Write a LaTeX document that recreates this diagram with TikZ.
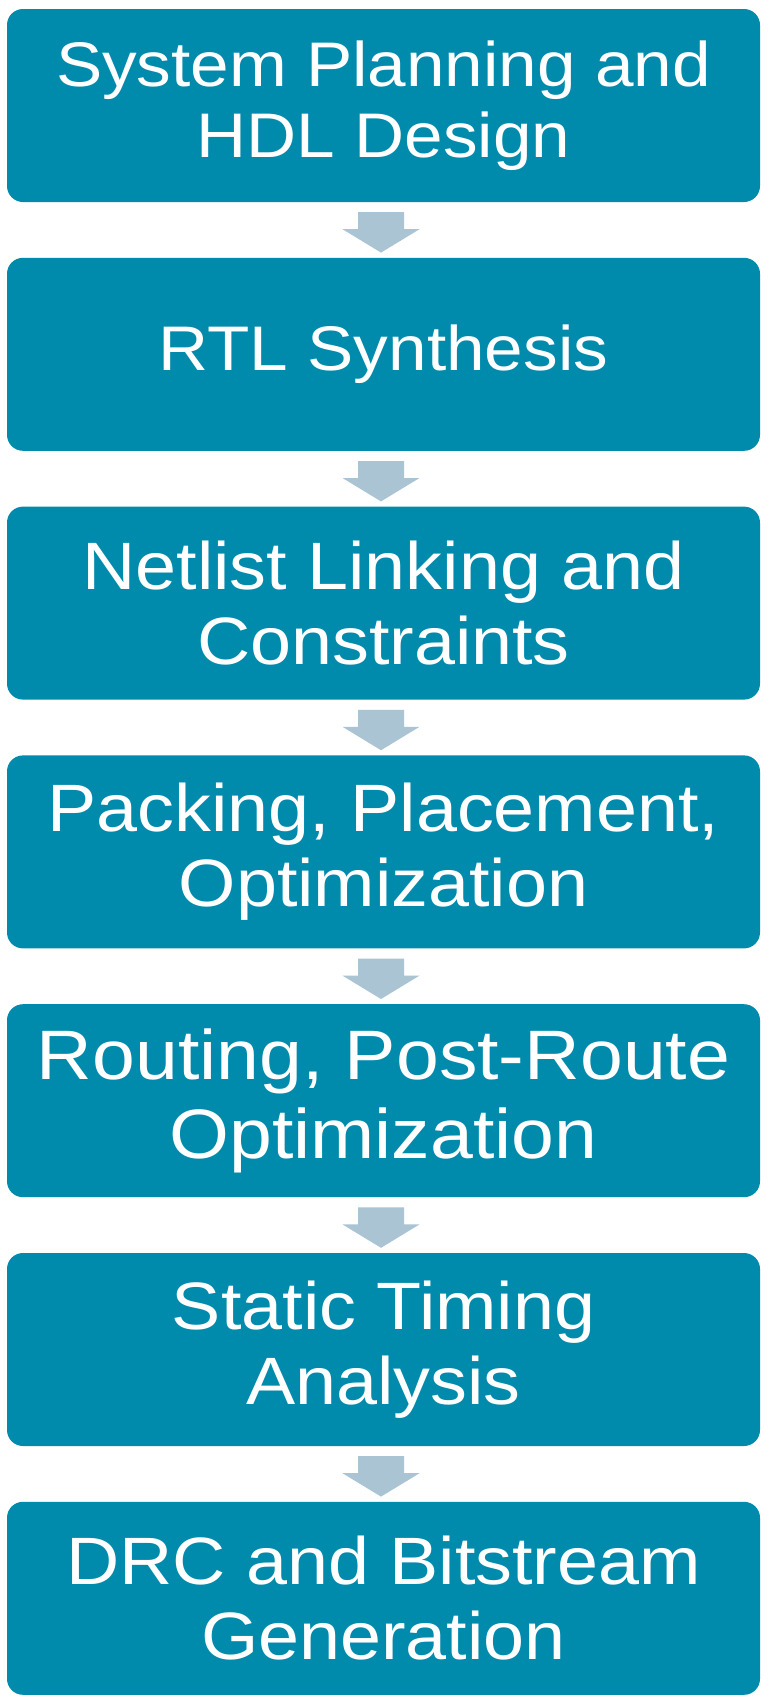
\documentclass[tikz,border=0pt]{standalone}
\usepackage{fontspec}
\setmainfont{Liberation Sans}
\newfontfamily\boxfont[FakeStretch=1.1]{Liberation Sans}
\usetikzlibrary{calc}
\definecolor{boxteal}{HTML}{008BAD}
\definecolor{arrowblue}{HTML}{ABC4D4}
\newcommand{\fsz}[1]{\fontsize{#1}{\dimexpr #1pt*112/100\relax}\selectfont}
\tikzset{
  stepbox/.style={rectangle, rounded corners=16pt, fill=boxteal, draw=none,
    minimum width=753pt, minimum height=193pt, inner sep=0pt,
    text=white, align=center, font=\boxfont\fsz{67}},
  textsize/.style={font=\boxfont\fsz{#1}},
  flowarrow/.style={fill=arrowblue, draw=none}
}
\newcommand{\blockarrow}[2]{%
  \fill[flowarrow] ($(#1.south)+(-25.5,10)$) -- ($(#1.south)+(20.5,10)$)
    -- ($(#1.south)+(20.5,27)$) -- ($(#1.south)+(36,27)$)
    -- ($(#2.north)+(-2.5,-5)$)
    -- ($(#1.south)+(-41,27)$) -- ($(#1.south)+(-25.5,27)$) -- cycle;}
\begin{document}
\begin{tikzpicture}[x=1pt,y=-1pt]
\fill[white] (0,0) rectangle (769,1705);
\useasboundingbox (0,0) rectangle (769,1705);
\node[stepbox, textsize=63] (b1) at (383.5,105.5) {System Planning and\\HDL Design};
\node[stepbox, textsize=63] (b2) at (383.5,354.3) {RTL Synthesis};
\node[stepbox, textsize=67] (b3) at (383.5,603.1) {Netlist Linking and\\Constraints};
\node[stepbox, textsize=67] (b4) at (383.5,851.9) {Packing, Placement,\\Optimization};
\node[stepbox, textsize=70] (b5) at (383.5,1100.7) {Routing, Post-Route\\Optimization};
\node[stepbox, textsize=67] (b6) at (383.5,1349.5) {Static Timing\\Analysis};
\node[stepbox, textsize=67] (b7) at (383.5,1598.3) {DRC and Bitstream\\Generation};
\blockarrow{b1}{b2}
\blockarrow{b2}{b3}
\blockarrow{b3}{b4}
\blockarrow{b4}{b5}
\blockarrow{b5}{b6}
\blockarrow{b6}{b7}
\end{tikzpicture}
\end{document}
